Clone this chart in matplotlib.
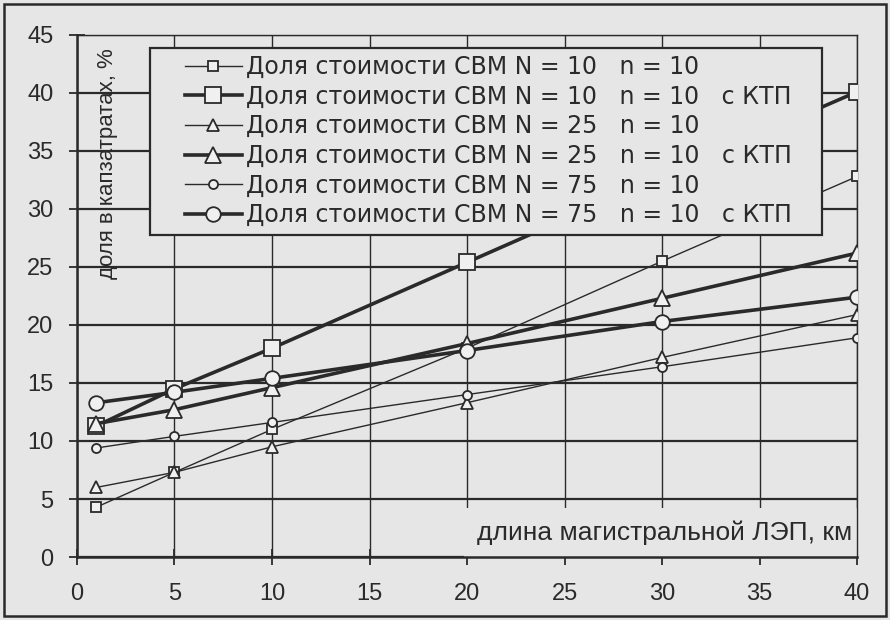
import matplotlib
matplotlib.use("Agg")
import matplotlib.pyplot as plt
from matplotlib.patches import Rectangle

# distance along main line, km
dist = [1, 5, 10, 20, 30, 40]

# share of cost, %
sq_thin = [4.3, 7.3, 11.0, 18.0, 25.5, 32.8]
sq_ktp = [11.3, 14.5, 18.0, 25.4, 32.8, 40.1]
tri_thin = [6.0, 7.3, 9.5, 13.3, 17.2, 20.9]
tri_ktp = [11.5, 12.7, 14.6, 18.4, 22.3, 26.2]
dia_thin = [9.4, 10.4, 11.6, 14.0, 16.4, 18.9]
dia_ktp = [13.3, 14.2, 15.4, 17.8, 20.3, 22.4]

labels = [
    "Доля стоимости СВМ N = 10   n = 10",
    "Доля стоимости СВМ N = 10   n = 10   с КТП",
    "Доля стоимости СВМ N = 25   n = 10",
    "Доля стоимости СВМ N = 25   n = 10   с КТП",
    "Доля стоимости СВМ N = 75   n = 10",
    "Доля стоимости СВМ N = 75   n = 10   с КТП",
]

x_ticks = [0, 5, 10, 15, 20, 25, 30, 35, 40]
y_ticks = [0, 5, 10, 15, 20, 25, 30, 35, 40, 45]

bg = "#e6e6e6"
ink = "#2a2a2a"
plt.rcParams["font.family"] = ["Liberation Sans", "DejaVu Sans"]

fig = plt.figure(figsize=(8.9, 6.2), dpi=100, facecolor=bg)
ax = fig.add_axes([0.0865, 0.1016, 0.8765, 0.842], facecolor=bg)

fig.patches.append(Rectangle((0.005, 0.006), 0.99, 0.988, transform=fig.transFigure,
                             fill=False, edgecolor=ink, linewidth=1.8))

series = [
    (sq_thin, "s", 7, 1.0),
    (sq_ktp, "s", 12, 2.6),
    (tri_thin, "^", 8, 1.0),
    (tri_ktp, "^", 12, 2.6),
    (dia_thin, "o", 6.5, 1.0),
    (dia_ktp, "o", 10.5, 2.6),
]
for (vals, mk, ms, lw), lab in zip(series, labels):
    ax.plot(dist, vals, color=ink, linewidth=lw, marker=mk, markersize=ms,
            markerfacecolor="#f0f0f0", markeredgecolor=ink, markeredgewidth=1.3,
            label=lab, zorder=3)

ax.set_xlim(0, 40)
ax.set_ylim(0, 45)
ax.set_xticks(x_ticks)
ax.set_yticks(y_ticks)
ax.tick_params(direction="inout", length=12, width=1.3, color=ink,
               labelsize=17, labelcolor=ink)
ax.tick_params(axis="x", pad=13)
ax.tick_params(axis="y", pad=11)
ax.grid(axis="y", color=ink, linewidth=1.6)
ax.grid(axis="x", color=ink, linewidth=1.0)
ax.set_axisbelow(True)
for side in ["top", "right"]:
    ax.spines[side].set_color(ink)
    ax.spines[side].set_linewidth(1.0)
for side in ["left", "bottom"]:
    ax.spines[side].set_color(ink)
    ax.spines[side].set_linewidth(1.8)

# legend box drawn separately so the padding can match the original
ax.add_patch(Rectangle((0.0936, 0.617), 0.861, 0.358, transform=ax.transAxes,
                       facecolor=bg, edgecolor=ink, linewidth=1.6, zorder=4))
leg = ax.legend(loc="upper left", bbox_to_anchor=(0.1385, 0.962), frameon=False,
                prop={"family": "DejaVu Sans", "size": 17}, labelcolor=ink,
                handlelength=2.4, handletextpad=0.2, labelspacing=0.24,
                borderpad=0, borderaxespad=0)
leg.set_zorder(5)

ax.text(0.0385, 0.975, "доля в капзатратах, %", transform=ax.transAxes,
        rotation=90, ha="center", va="top", fontsize=16, color=ink)
ax.text(0.994, 0.046, "длина магистральной ЛЭП, км", transform=ax.transAxes,
        ha="right", va="center", fontsize=19, color=ink, zorder=1,
        bbox=dict(boxstyle="square,pad=0.5", facecolor=bg, edgecolor="none"))

fig.savefig("out.png", dpi=100, facecolor=bg)
